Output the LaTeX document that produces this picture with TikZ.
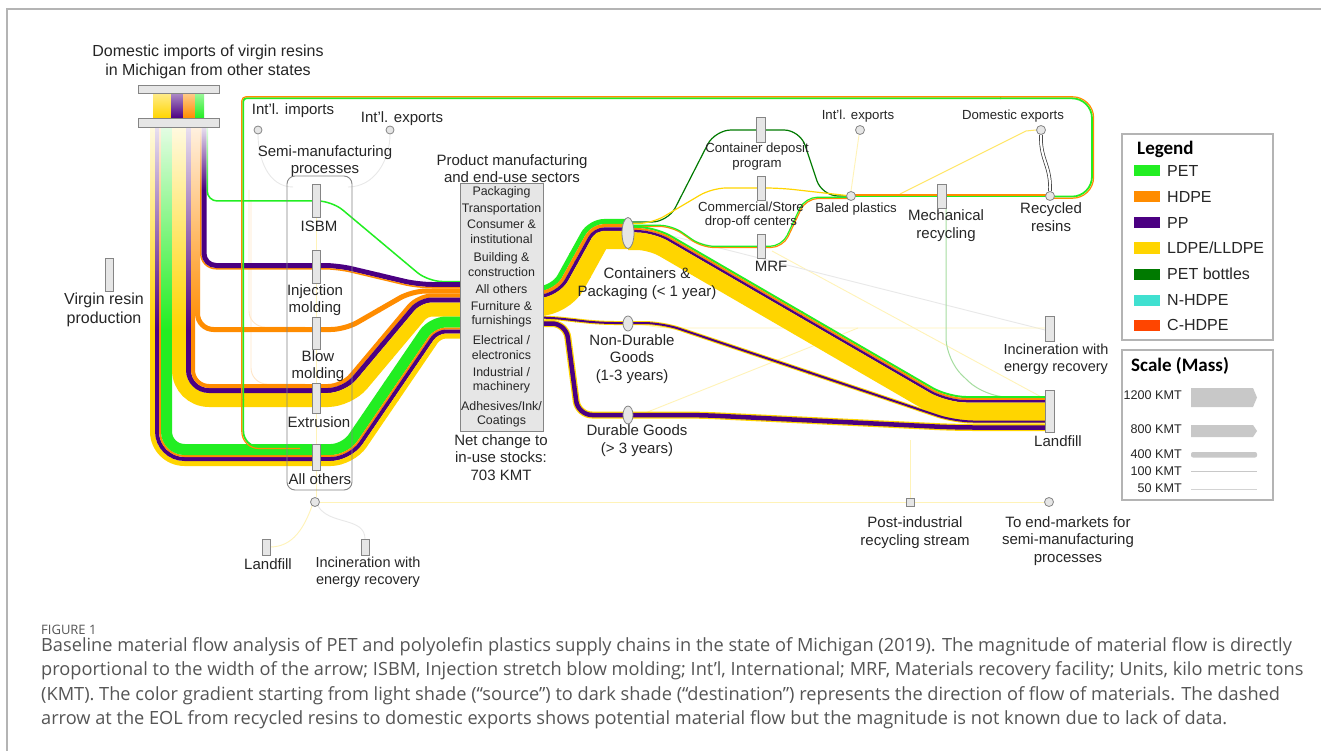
\documentclass[tikz,border=0pt]{standalone}
\usepackage{fontspec}
\setmainfont{Liberation Sans}
\newfontfamily\capfont{Open Sans}
\newfontfamily\legfont{Carlito}
\usetikzlibrary{fadings,shapes.geometric}
\definecolor{cPET}{HTML}{22EE22}
\definecolor{cHDPE}{HTML}{FF8C00}
\definecolor{cPP}{HTML}{4B0082}
\definecolor{cLD}{HTML}{FFD500}
\definecolor{cPETb}{HTML}{007A00}
\definecolor{cNH}{HTML}{40E0D0}
\definecolor{cCH}{HTML}{FF4500}
\definecolor{cLG}{HTML}{A6DDA0}
\definecolor{barfill}{HTML}{E6E6E6}
\definecolor{bardraw}{HTML}{858585}
\definecolor{framec}{HTML}{B4B4B4}
\definecolor{capc}{HTML}{555555}
\definecolor{txtc}{HTML}{262626}
\definecolor{scalec}{HTML}{C8C8C8}
\tikzfading[name=fadedown, top color=transparent!12, bottom color=transparent!100]
\newcommand\vhflow[7]{\draw[#1,line width=#2pt,rounded corners=#7pt] (#3,#4) -- (#3,#5) -- (#6,#5);}
\newcommand\hdhflow[9]{%
 \pgfmathsetmacro\hdA{atan2(abs((#8)-(#5)),(#7)-(#6))}%
 \pgfmathsetmacro\hdT{tan(\hdA/2)}%
 \pgfmathsetmacro\hdS{((#8)<(#5))?1:-1}%
 \pgfmathsetmacro\hdX{\hdS*\hdT*(#3)}%
 \pgfmathsetmacro\hdRa{max(0.5,\hdR+\hdX)}%
 \pgfmathsetmacro\hdRb{max(0.5,\hdR-\hdX)}%
 \pgfmathsetmacro\hdYa{(#5)+(#3)}%
 \pgfmathsetmacro\hdYb{(#8)+(#3)}%
 \pgfmathsetmacro\hdXa{(#6)+\hdX}%
 \pgfmathsetmacro\hdXb{(#7)+\hdX}%
 \pgfmathsetmacro\hdXn{(\hdXa+\hdXb)/2}%
 \pgfmathsetmacro\hdYn{(\hdYa+\hdYb)/2}%
 \pgfmathsetmacro\hdXm{\hdXn+cos(\hdA)}%
 \pgfmathsetmacro\hdYm{\hdYn-\hdS*sin(\hdA)}%
 \draw[#1,line width=#2pt,rounded corners=\hdRa pt] (#4,\hdYa) -- (\hdXa,\hdYa) -- (\hdXm,\hdYm);%
 \draw[#1,line width=#2pt,rounded corners=\hdRb pt] (\hdXn,\hdYn) -- (\hdXb,\hdYb) -- (#9,\hdYb);%
}
\tikzset{
 barbox/.style={draw=bardraw, fill=barfill, line width=0.8pt, inner sep=0pt, minimum width=8pt},
 hub/.style={circle, draw=bardraw, fill=barfill, line width=0.8pt, inner sep=0pt, minimum size=9pt},
 prodell/.style={ellipse, draw=bardraw, fill=barfill, line width=0.8pt, inner sep=0pt},
 lbl/.style={align=center, inner sep=0pt, text=txtc, font=\fontsize{15}{17.5}\selectfont},
 biglbl/.style={lbl, font=\fontsize{16}{19}\selectfont},
 smalllbl/.style={lbl, font=\fontsize{13.2}{14.2}\selectfont},
 sect/.style={inner sep=0pt, text=txtc, font=\fontsize{12.4}{14}\selectfont},
 legtxt/.style={anchor=west, inner sep=0pt, text=txtc, font=\fontsize{16}{18}\selectfont},
 sctxt/.style={anchor=east, inner sep=0pt, text=txtc, font=\fontsize{12.6}{14}\selectfont},
 legtitle/.style={anchor=west, inner sep=0pt, text=black, font=\legfont\bfseries\fontsize{19}{21}\selectfont},
 capt/.style={anchor=west, inner sep=0pt, text=capc, font=\capfont\fontsize{18.2}{21}\selectfont},
 fainty/.style={draw=cLD!28, line width=0.9pt},
 faintg/.style={draw=black!9, line width=0.9pt},
 fainto/.style={draw=cHDPE!22, line width=0.9pt},
 thinline/.style={line width=1.2pt},
}
\begin{document}
\begin{tikzpicture}[x=1pt,y=-1pt]
\useasboundingbox (0,0) rectangle (1321,751);
\fill[white] (0,0) rectangle (1321,751);
\draw[framec, line width=1.3pt] (7,751) -- (7,9) -- (1321,9);

\coordinate (impc) at (258,130);
\coordinate (expLc) at (390,130);

% ---------- faint flows (under everything) ----------
\draw[faintg] (258,134) to[out=-90,in=180] (293,187);
\draw[faintg] (390,134) to[out=-90,in=0] (348,187);
\draw[fainto, rounded corners=16pt] (249,190) -- (249,327) -- (305,327);
\draw[fainto, rounded corners=16pt] (251,200) -- (251,384) -- (305,384);
\draw[fainty] (316,217) -- (316,497);
\draw[fainty] (312,506) to[out=-110,in=0] (270,547);
\draw[faintg] (318,506) to[out=-60,in=90] (365,539);
\draw[fainty] (320,502) -- (906,502);
\draw[fainty] (914,502) -- (1044,502);
\draw[fainty] (910,498) -- (910,440);
\draw[fainty] (772,251) -- (1045,399);
\draw[faintg] (660,233) -- (1045,330);
\draw[fainty, rounded corners=10pt] (633,323) -- (662,328) -- (1045,328);
\draw[fainty] (645,413) -- (858,328);
\draw[draw=cLG, line width=1pt, rounded corners=22pt] (946,208) -- (946,360) -- (985,397) -- (1045,397);
\draw[fainty] (851,191) -- (859,135);
\draw[draw=cLD!60, line width=1pt] (1036,130) -- (1026,131) -- (900,194);

% ---------- source columns ----------
\vhflow{cLD}{5}{152.5}{126}{463.5}{318}{32}
\vhflow{cPP}{4}{157}{126}{459}{318}{27.5}
\vhflow{cHDPE}{2}{160}{126}{456}{318}{24.5}
\vhflow{cPET}{11}{166.5}{126}{449.5}{318}{18}
\vhflow{cLD}{14}{179}{126}{400}{318}{30}
\vhflow{cPP}{5}{188.5}{126}{390.5}{318}{20.5}
\vhflow{cHDPE}{4}{193}{126}{386}{318}{16}
\vhflow{cHDPE}{5}{197.5}{126}{329.5}{318}{16}
\vhflow{cHDPE}{1.5}{200.75}{126}{268.75}{318}{15.25}
\vhflow{cPP}{5}{204}{126}{265.5}{318}{12}
\vhflow{cPET}{1.5}{207.25}{126}{201}{318}{10}

% ---------- semi-manufacturing to sectors ----------
\def\hdR{14}
\hdhflow{cPET}{1.5}{0}{316}{201}{332}{428}{281.5}{470}
\hdhflow{cPP}{5}{0}{316}{265.5}{338}{418}{284.5}{470}
\hdhflow{cHDPE}{1.5}{3.25}{316}{265.5}{338}{418}{284.5}{470}
\hdhflow{cHDPE}{5}{0}{316}{329.5}{345}{412}{291}{470}
\hdhflow{cHDPE}{4}{0}{316}{386}{342}{418}{295.5}{470}
\hdhflow{cPP}{5}{4.5}{316}{386}{342}{418}{295.5}{470}
\hdhflow{cLD}{14}{14}{316}{386}{342}{418}{295.5}{470}
\hdhflow{cPET}{11}{0}{316}{449.5}{345}{432}{322}{470}
\hdhflow{cHDPE}{2}{6.5}{316}{449.5}{345}{432}{322}{470}
\hdhflow{cPP}{4}{9.5}{316}{449.5}{345}{432}{322}{470}
\hdhflow{cLD}{5}{14}{316}{449.5}{345}{432}{322}{470}

% ---------- collection thin lines ----------
\draw[cPETb, thinline, rounded corners=16pt] (630,222) -- (668,222) -- (715,130) -- (800,130) -- (822,196) -- (852,196);
\draw[cLD, thinline, rounded corners=14pt] (630,223.5) -- (652,223.5) -- (712,188) -- (780,188) -- (851,196);
\draw[cHDPE, thinline, rounded corners=12pt] (630,226.5) -- (672,226.5) -- (702,247.5) -- (783,247.5) -- (806,198.5) -- (851,198.5);
\draw[cPET, thinline, rounded corners=12pt] (630,225.3) -- (672,225.3) -- (702,246.3) -- (782,246.3) -- (805,197.3) -- (851,197.3);

% ---------- sectors to product groups ----------
\def\hdR{14}
\hdhflow{cPET}{5}{0}{500}{288.5}{553}{590}{221.5}{628}
\hdhflow{cHDPE}{3.5}{4.25}{500}{288.5}{553}{590}{221.5}{628}
\hdhflow{cPP}{3.5}{7.75}{500}{288.5}{553}{590}{221.5}{628}
\hdhflow{cLD}{18}{18.5}{500}{288.5}{553}{590}{221.5}{628}
\hdhflow{cLD}{4}{0}{500}{317.5}{550}{600}{323}{628}
\hdhflow{cPP}{2}{0}{500}{317.5}{550}{600}{323}{628}
\draw[cLD, line width=7pt, rounded corners=14pt] (500,323.5) -- (566,323.5) -- (578,415) -- (628,415);
\draw[cPP, line width=4.5pt, rounded corners=14pt] (500,323.5) -- (566,323.5) -- (578,415) -- (628,415);

% ---------- product groups to landfill ----------
\def\hdR{18}
\hdhflow{cPET}{2}{0}{628}{227}{655}{948}{397}{1050}
\hdhflow{cHDPE}{2}{2}{628}{227}{655}{948}{397}{1050}
\hdhflow{cPP}{2.5}{4.25}{628}{227}{655}{948}{397}{1050}
\hdhflow{cLD}{17.5}{14.25}{628}{227}{655}{948}{397}{1050}
\hdhflow{cLD}{4}{0}{628}{323}{662}{955}{421.5}{1050}
\hdhflow{cPP}{2}{0}{628}{323}{662}{955}{421.5}{1050}
\hdhflow{cLD}{7}{0}{628}{415}{700}{955}{427.5}{1050}
\hdhflow{cPP}{4.5}{0}{628}{415}{700}{955}{427.5}{1050}

% ---------- recycling chain and loop ----------
\draw[cHDPE, thinline] (851,195) -- (1050,195);
\draw[cPET, line width=1.6pt] (851,196.6) -- (1050,196.6);
\draw[cPET, line width=1.8pt, rounded corners=20pt] (1050,196.6) -- (1092,196.6) -- (1092,98.3) -- (1000,98.3);
\draw[cHDPE, thinline, rounded corners=21pt] (1050,198.2) -- (1093.6,198.2) -- (1093.6,96.8) -- (1000,96.8);
\draw[cPET, line width=1.8pt, rounded corners=3pt] (1001,98.3) -- (243.3,98.3) -- (243.3,400);
\draw[cHDPE, thinline, rounded corners=4pt] (1001,96.8) -- (241.8,96.8) -- (241.8,400);
\draw[cPET, line width=1.8pt, rounded corners=16pt] (243.3,399) -- (243.3,447) -- (300,447);
\draw[cHDPE, thinline, rounded corners=17pt] (241.8,399) -- (241.8,448.5) -- (300,448.5);

% ---------- fading of the source columns ----------
\fill[white, path fading=fadedown] (146,127) rectangle (199.6,330);
\fill[white, path fading=fadedown] (199.6,127) rectangle (210,190);

% ---------- source box ----------
\shade[top color=cLD!45, bottom color=cLD] (153,93) rectangle (171,118);
\shade[top color=cPP!45, bottom color=cPP] (171,93) rectangle (183,118);
\shade[top color=cHDPE!45, bottom color=cHDPE] (183,93) rectangle (195,118);
\shade[top color=cPET!45, bottom color=cPET] (195,93) rectangle (204,118);
\node[barbox, minimum width=81pt, minimum height=8pt] (srctop) at (178.5,89) {};
\node[barbox, minimum width=81pt, minimum height=9pt] (srcbot) at (178.5,122.5) {};

% ---------- boxes, bars and hubs ----------
\node[draw=bardraw, line width=0.9pt, rounded corners=8pt, minimum width=65pt, minimum height=314pt, inner sep=0pt] (semi) at (319.5,333) {};
\node[barbox, minimum width=8.5pt, minimum height=33pt] (virgin) at (109.25,274.5) {};
\node[barbox, minimum height=33pt] (isbm) at (316,200.5) {};
\node[barbox, minimum height=33pt] (inj) at (316,266.5) {};
\node[barbox, minimum height=32pt] (blow) at (316,333) {};
\node[barbox, minimum height=30pt] (extr) at (316,398) {};
\node[barbox, minimum height=26pt] (aoth) at (316,457) {};
\node[barbox, minimum height=16pt] (lfL) at (266,547) {};
\node[barbox, minimum height=16pt] (incL) at (365,547) {};
\node[hub, minimum size=8pt] (intimp) at (impc) {};
\node[hub, minimum size=8pt] (intexpL) at (expLc) {};
\node[hub] (aohub) at (315,502) {};
\node[barbox, minimum width=83pt, minimum height=248pt] (sectors) at (501.5,307) {};
\node[prodell, minimum width=12pt, minimum height=31pt] (cont) at (628,233) {};
\node[prodell, minimum width=10pt, minimum height=15pt] (nondur) at (628,323.5) {};
\node[prodell, minimum width=10pt, minimum height=18pt] (dur) at (628,415) {};
\node[barbox, minimum width=8.5pt, minimum height=25pt] (deposit) at (761,130) {};
\node[barbox, minimum width=8.5pt, minimum height=24pt] (comm) at (761.5,188) {};
\node[barbox, minimum width=8.5pt, minimum height=24pt] (mrf) at (761.5,246) {};
\node[hub] (baled) at (851,196) {};
\node[hub] (intexpR) at (860,130) {};
\node[barbox, minimum width=8.5pt, minimum height=24pt] (mech) at (942,196) {};
\node[hub] (domexp) at (1041,130) {};
\node[hub] (recyc) at (1050,196) {};
\draw[draw=black!80, double=white, double distance=2.2pt, line width=0.7pt] (domexp.south) .. controls (1040,160) and (1051,165) .. (recyc.north);
\node[barbox, minimum width=9pt, minimum height=25pt] (incR) at (1049.5,328.5) {};
\node[barbox, minimum width=9pt, minimum height=42pt] (lfR) at (1049.5,411) {};
\node[barbox, minimum width=8pt, minimum height=8pt] (post) at (910,502) {};
\node[hub] (endmk) at (1049,502) {};

% ---------- labels ----------
\node[biglbl, font=\fontsize{16}{19.5}\selectfont] (tdom) at (208,62) {Domestic imports of virgin resins\\in Michigan from other states};
\node[lbl] (timp) at (293,111) {Int'l. imports};
\node[lbl] (texpL) at (402,119) {Int'l. exports};
\node[lbl] (tsemi) at (325,161) {Semi-manufacturing\\processes};
\node[lbl] (tisbm) at (319,226) {ISBM};
\node[lbl] (tinj) at (315,300) {Injection\\molding};
\node[lbl] (tblow) at (318,366) {Blow\\molding};
\node[lbl] (textr) at (319,422) {Extrusion};
\node[lbl] (taoth) at (320,479) {All others};
\node[biglbl] (tvirg) at (104,310) {Virgin resin\\production};
\node[lbl] (tlfL) at (268,564) {Landfill};
\node[lbl, font=\fontsize{14.5}{17}\selectfont] (tincL) at (368,572.5) {Incineration with\\energy recovery};
\node[lbl] (tprod) at (512,168.5) {Product manufacturing\\and end-use sectors};
\node[lbl] (tnet) at (501,457.5) {Net change to\\in-use stocks:\\703 KMT};
\foreach \yy/\lab in {192/{Packaging}, 209/{Transportation}, 224/{Consumer \&}, 239/{institutional}, 258/{Building \&}, 272/{construction}, 289/{All others}, 306/{Furniture \&}, 321/{furnishings}, 340/{Electrical /}, 355/{electronics}, 372/{Industrial /}, 387/{machinery}, 406/{Adhesives/Ink/}, 421/{Coatings}}
  {\node[sect] (s\yy) at (501.5,\yy) {\lab};}
\node[lbl] (tcont) at (647,283.5) {Containers \&\\Packaging (< 1 year)};
\node[lbl] (tnon) at (632,359) {Non-Durable\\Goods\\(1-3 years)};
\node[lbl] (tdur) at (637,440.5) {Durable Goods\\(> 3 years)};
\node[smalllbl] (tdep) at (757,156.5) {Container deposit\\program};
\node[smalllbl] (tcom) at (751,215) {Commercial/Store\\drop-off centers};
\node[lbl] (tmrf) at (771,266) {MRF};
\node[smalllbl] (texpR) at (858,116) {Int'l. exports};
\node[smalllbl] (tdomx) at (1013,116) {Domestic exports};
\node[smalllbl] (tbal) at (856,209) {Baled plastics};
\node[lbl] (tmech) at (946,225.5) {Mechanical\\recycling};
\node[lbl] (trec) at (1051,217) {Recycled\\resins};
\node[lbl, font=\fontsize{14.5}{17}\selectfont] (tincR) at (1056,359.5) {Incineration with\\energy recovery};
\node[lbl] (tlfR) at (1058,441) {Landfill};
\node[lbl] (tpost) at (915,532.5) {Post-industrial\\recycling stream};
\node[lbl] (tend) at (1068,541) {To end-markets for\\semi-manufacturing\\processes};

% ---------- legend ----------
\node[draw=framec, line width=1.5pt, minimum width=151pt, minimum height=206pt, inner sep=0pt] (legbox) at (1197.5,237) {};
\node[legtitle] (legt) at (1137,149) {Legend};
\foreach \yy/\cc/\lab in {171/cPET/{PET}, 197/cHDPE/{HDPE}, 223/cPP/{PP}, 248/cLD/{LDPE/LLDPE}, 274/cPETb/{PET bottles}, 300/cNH/{N-HDPE}, 325/cCH/{C-HDPE}}
  {\fill[\cc] (1134,\yy-5.5) rectangle (1159.5,\yy+5.5);
   \node[legtxt] (l\yy) at (1167,\yy) {\lab};}
\node[draw=framec, line width=1.5pt, minimum width=151pt, minimum height=150pt, inner sep=0pt] (scbox) at (1197.5,425) {};
\node[legtitle] (sct) at (1131,366) {Scale (Mass)};
\node[sctxt] (sc1) at (1182,395) {1200 KMT};
\node[sctxt] (sc2) at (1182,429) {800 KMT};
\node[sctxt] (sc3) at (1182,454) {400 KMT};
\node[sctxt] (sc4) at (1182,471) {100 KMT};
\node[sctxt] (sc5) at (1182,488) {50 KMT};
\fill[scalec] (1191,388) -- (1253,388) -- (1257,397.5) -- (1253,407) -- (1191,407) -- cycle;
\fill[scalec] (1191,425) -- (1253,425) -- (1257,431) -- (1253,437) -- (1191,437) -- cycle;
\fill[scalec, rounded corners=2pt] (1191,452) rectangle (1257,457.5);
\draw[scalec, line width=1pt] (1191,471) -- (1257,471);
\draw[scalec!80, line width=0.5pt] (1191,489) -- (1257,489);

% ---------- caption ----------
\node[capt, font=\capfont\fontsize{13}{15}\selectfont] (fig) at (41,630) {FIGURE 1};
\node[capt] (cap1) at (41,646.5) {Baseline material flow analysis of PET and polyolefin plastics supply chains in the state of Michigan (2019). The magnitude of material flow is directly};
\node[capt] (cap2) at (41,671) {proportional to the width of the arrow; ISBM, Injection stretch blow molding; Int’l, International; MRF, Materials recovery facility; Units, kilo metric tons};
\node[capt] (cap3) at (41,695.5) {(KMT). The color gradient starting from light shade (“source”) to dark shade (“destination”) represents the direction of flow of materials. The dashed};
\node[capt] (cap4) at (41,720) {arrow at the EOL from recycled resins to domestic exports shows potential material flow but the magnitude is not known due to lack of data.};
\end{tikzpicture}
\end{document}
